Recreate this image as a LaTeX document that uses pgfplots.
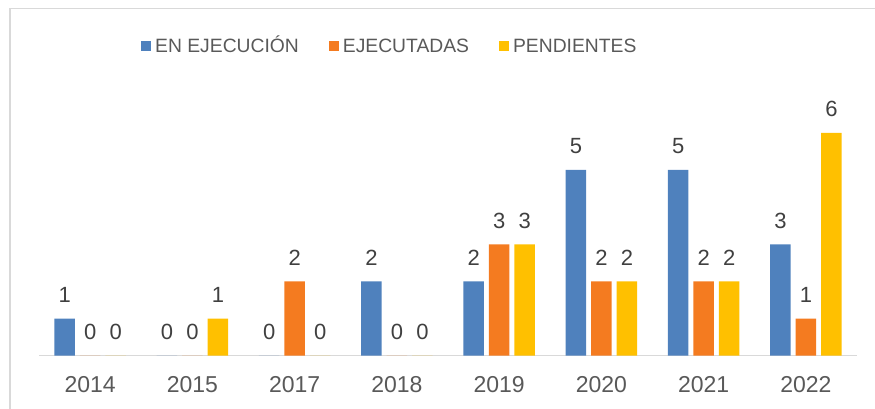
\documentclass[border=0pt]{standalone}
\usepackage{pgfplots}
\pgfplotsset{compat=1.18}
\usepackage{fontspec}
\setmainfont{Liberation Sans}

\definecolor{cBlue}{HTML}{4F81BD}
\definecolor{cOrange}{HTML}{F47B20}
\definecolor{cYellow}{HTML}{FFC000}
\definecolor{txt}{HTML}{595959}
\definecolor{lbl}{HTML}{404040}
\definecolor{frame}{HTML}{D9D9D9}

\begin{document}
\begin{tikzpicture}
\path[use as bounding box] (0,0) rectangle (875pt,409pt);
\draw[frame, line width=1.3pt] (10pt,0) -- (10pt,400.5pt) -- (875pt,400.5pt);
\begin{axis}[
  at={(39pt,53.3pt)}, anchor=south west,
  scale only axis,
  width=818pt, height=260pt,
  ybar, bar width=20.5pt,
  xmin=-0.5, xmax=7.5, ymin=0, ymax=7,
  axis x line=bottom, axis y line=none,
  x axis line style={draw=frame, line width=1.3pt, -},
  major tick length=0pt,
  xtick={0,...,7},
  xticklabels={2014,2015,2017,2018,2019,2020,2021,2022},
  xticklabel style={anchor=base, yshift=-37.3pt, font=\fontsize{23}{26}\selectfont, text=txt},
  nodes near coords,
  /pgf/number format/assume math mode=true,
  every node near coord/.append style={anchor=base, yshift=16pt, font=\fontsize{22}{25}\selectfont, text=lbl},
  legend columns=3,
  legend style={at={(0.1247,1.1923)}, anchor=west, draw=none, fill=none,
    inner sep=0pt, font=\fontsize{19.3}{22}\selectfont, text=txt,
    nodes={text height=14pt, text depth=0pt},
    /tikz/every even column/.append style={column sep=28pt},
    /tikz/every odd column/.append style={column sep=2pt}},
  legend image code/.code={\fill[#1] (0pt,-5pt) rectangle (10pt,5pt);},
]
\addplot[fill=cBlue, draw=none, bar shift=-25.5pt] coordinates
  {(0,1) (1,0) (2,0) (3,2) (4,2) (5,5) (6,5) (7,3)};
\addplot[fill=cOrange, draw=none, bar shift=0pt] coordinates
  {(0,0) (1,0) (2,2) (3,0) (4,3) (5,2) (6,2) (7,1)};
\addplot[fill=cYellow, draw=none, bar shift=25.5pt] coordinates
  {(0,0) (1,1) (2,0) (3,0) (4,3) (5,2) (6,2) (7,6)};
\legend{EN EJECUCIÓN, EJECUTADAS, PENDIENTES}
\end{axis}
\end{tikzpicture}
\end{document}
